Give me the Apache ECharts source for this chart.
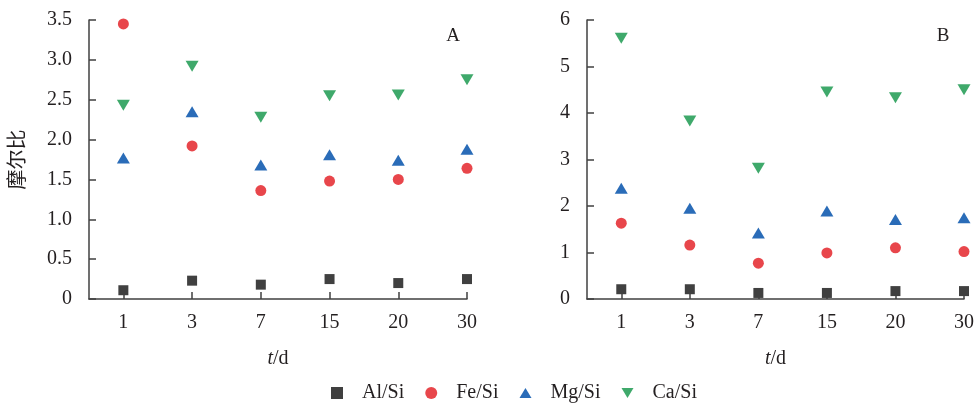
<!DOCTYPE html>
<html>
<head>
<meta charset="utf-8">
<script src="https://cdn.jsdelivr.net/npm/echarts@6/dist/echarts.min.js"></script>
<style>html,body{margin:0;padding:0;background:#fff}#c{width:977px;height:403px}</style>
</head>
<body>
<div id="c"></div>
<script>
const categories = ['1', '3', '7', '15', '20', '30'];
const seriesNames = ['Al/Si', 'Fe/Si', 'Mg/Si', 'Ca/Si'];
// Panel A
const alSiA = [0.11, 0.23, 0.18, 0.25, 0.20, 0.25];
const feSiA = [3.45, 1.92, 1.36, 1.48, 1.50, 1.64];
const mgSiA = [1.77, 2.35, 1.68, 1.81, 1.74, 1.88];
const caSiA = [2.43, 2.92, 2.28, 2.55, 2.56, 2.75];
// Panel B
const alSiB = [0.21, 0.21, 0.13, 0.13, 0.17, 0.17];
const feSiB = [1.63, 1.16, 0.77, 0.99, 1.10, 1.02];
const mgSiB = [2.38, 1.95, 1.42, 1.89, 1.71, 1.75];
const caSiB = [5.61, 3.83, 2.81, 4.45, 4.33, 4.50];
const yTicksA = [0, 0.5, 1.0, 1.5, 2.0, 2.5, 3.0, 3.5];
const yTicksB = [0, 1, 2, 3, 4, 5, 6];

const FONT = '"Liberation Serif", "Times New Roman", "Noto Sans CJK SC", serif';
const TXT = '#231f20';
const AX = '#404040';
const styles = [
  {symbol: 'rect', size: 10, color: '#404040'},
  {symbol: 'circle', size: 11, color: '#e8464b'},
  {symbol: 'path://M6,0L12,10L0,10Z', size: [13, 11], color: '#2a6cb8'},
  {symbol: 'path://M0,0L12,0L6,10Z', size: [13, 11], color: '#3fa96b'}
];
const catIdx = categories.map((c, i) => i + 1);
function pts(arr) { return arr.map((v, i) => [catIdx[i], v]); }

function xAxis(gi) {
  return {
    type: 'value', gridIndex: gi, min: 0.5, max: categories.length,
    name: '{i|t}{n|/d}', nameLocation: 'middle', nameGap: 50,
    nameTextStyle: {rich: {i: {fontFamily: FONT, fontSize: 20, fontStyle: 'italic', color: TXT}, n: {fontFamily: FONT, fontSize: 20, color: TXT}}},
    splitLine: {show: false},
    axisLine: {lineStyle: {color: AX, width: 1.5}},
    axisTick: {inside: true, length: 7, customValues: catIdx, lineStyle: {color: AX, width: 1.5}},
    axisLabel: {customValues: catIdx, formatter: v => categories[Math.round(v) - 1], fontFamily: FONT, fontSize: 20, color: TXT, margin: 14}
  };
}
function yAxis(gi, ticks, dec, name) {
  return {
    type: 'value', gridIndex: gi, min: ticks[0], max: ticks[ticks.length - 1], interval: ticks[1] - ticks[0],
    name: name, nameLocation: 'middle', nameGap: 60, nameRotate: 90,
    nameTextStyle: {fontFamily: FONT, fontSize: 20, color: TXT},
    splitLine: {show: false},
    axisLine: {show: true, lineStyle: {color: AX, width: 1.5}},
    axisTick: {show: true, inside: true, length: 7, lineStyle: {color: AX, width: 1.5}},
    axisLabel: {formatter: v => v === 0 ? '0' : v.toFixed(dec), fontFamily: FONT, fontSize: 20, color: TXT, margin: 17}
  };
}
const dataA = [alSiA, feSiA, mgSiA, caSiA];
const dataB = [alSiB, feSiB, mgSiB, caSiB];
const series = [];
[dataA, dataB].forEach((set, gi) => {
  set.forEach((arr, k) => {
    series.push({
      type: 'scatter', name: seriesNames[k], xAxisIndex: gi, yAxisIndex: gi,
      symbol: styles[k].symbol, symbolSize: styles[k].size,
      itemStyle: {color: styles[k].color, opacity: 1},
      data: pts(arr)
    });
  });
});

const chart = echarts.init(document.getElementById('c'), null, {renderer: 'canvas'});
chart.setOption({
  animation: false,
  backgroundColor: '#fff',
  textStyle: {fontFamily: FONT},
  title: [
    {text: 'A', left: 448, top: 22, textAlign: 'center', textStyle: {fontFamily: FONT, fontSize: 19, fontWeight: 'normal', color: TXT}},
    {text: 'B', left: 938, top: 22, textAlign: 'center', textStyle: {fontFamily: FONT, fontSize: 19, fontWeight: 'normal', color: TXT}}
  ],
  grid: [
    {left: 89, right: 510, top: 20, bottom: 104},
    {left: 587, right: 12, top: 20, bottom: 104}
  ],
  xAxis: [xAxis(0), xAxis(1)],
  yAxis: [yAxis(0, yTicksA, 1, '摩尔比'), yAxis(1, yTicksB, 0, '')],
  legend: {
    data: seriesNames, top: 378, left: 326, itemWidth: 12, itemHeight: 12, itemGap: 21,
    textStyle: {fontFamily: FONT, fontSize: 20, color: TXT, padding: [0, 0, 0, 14]}
  },
  series: series
});
</script>
</body>
</html>
